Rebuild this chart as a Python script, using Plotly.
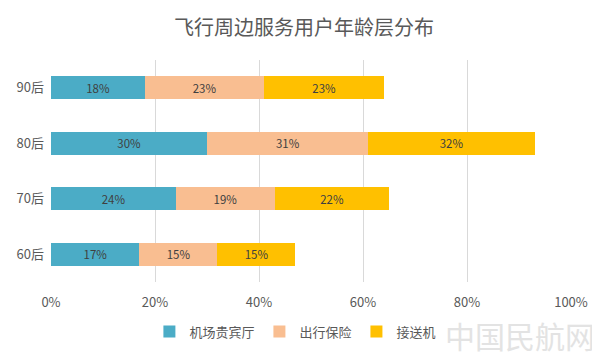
import plotly.graph_objects as go

categories = ["60后", "70后", "80后", "90后"]
series_names = ["机场贵宾厅", "出行保险", "接送机"]
lounge = [17, 24, 30, 18]
insurance = [15, 19, 31, 23]
transfer = [15, 22, 32, 23]
colors = ["#4BACC6", "#F9BE91", "#FFC000"]
tick_vals = [0, 20, 40, 60, 80, 100]
tick_text = ["0%", "20%", "40%", "60%", "80%", "100%"]

FONT = "Noto Sans CJK SC, Microsoft YaHei, sans-serif"

fig = go.Figure()
for name, vals, c in zip(series_names, [lounge, insurance, transfer], colors):
    fig.add_trace(go.Bar(
        y=categories, x=vals, name=name, orientation="h",
        marker=dict(color=c, line=dict(width=0)),
        text=[f"{v}%" for v in vals], textposition="inside",
        insidetextanchor="middle",
        textfont=dict(color="#404040", size=13, family=FONT),
    ))

fig.update_layout(
    barmode="stack",
    bargap=0.59,
    width=592, height=351,
    paper_bgcolor="white", plot_bgcolor="white",
    margin=dict(l=43, r=29, t=52, b=75),
    font=dict(family=FONT, color="#595959", size=13),
    title=dict(text="飞行周边服务用户年龄层分布", x=0.5, xanchor="center",
               y=0.943, yanchor="middle",
               font=dict(size=20, color="#595959", family=FONT)),
    xaxis=dict(range=[0, 100], tickvals=tick_vals, ticktext=tick_text,
               showgrid=True, gridcolor="#D9D9D9", gridwidth=1,
               zeroline=False, showline=False, ticks="",
               automargin=False, ticklabelstandoff=11,
               tickfont=dict(size=13, color="#595959")),
    yaxis=dict(showgrid=False, showline=False, ticks="",
               automargin=False, ticklabelstandoff=6,
               tickfont=dict(size=13, color="#595959")),
    legend=dict(orientation="h", x=0.47, xanchor="center", y=-0.156, yanchor="top",
                font=dict(size=13, color="#595959"), traceorder="normal",
                itemwidth=30),
    showlegend=True,
    uniformtext=dict(minsize=8),
)

fig.add_annotation(text="中国民航网", xref="paper", yref="paper", x=1.05, y=-0.345,
                   xanchor="right", yanchor="bottom", showarrow=False,
                   font=dict(size=30, color="#E3E3E3", family=FONT))

fig.write_html("out.html")
